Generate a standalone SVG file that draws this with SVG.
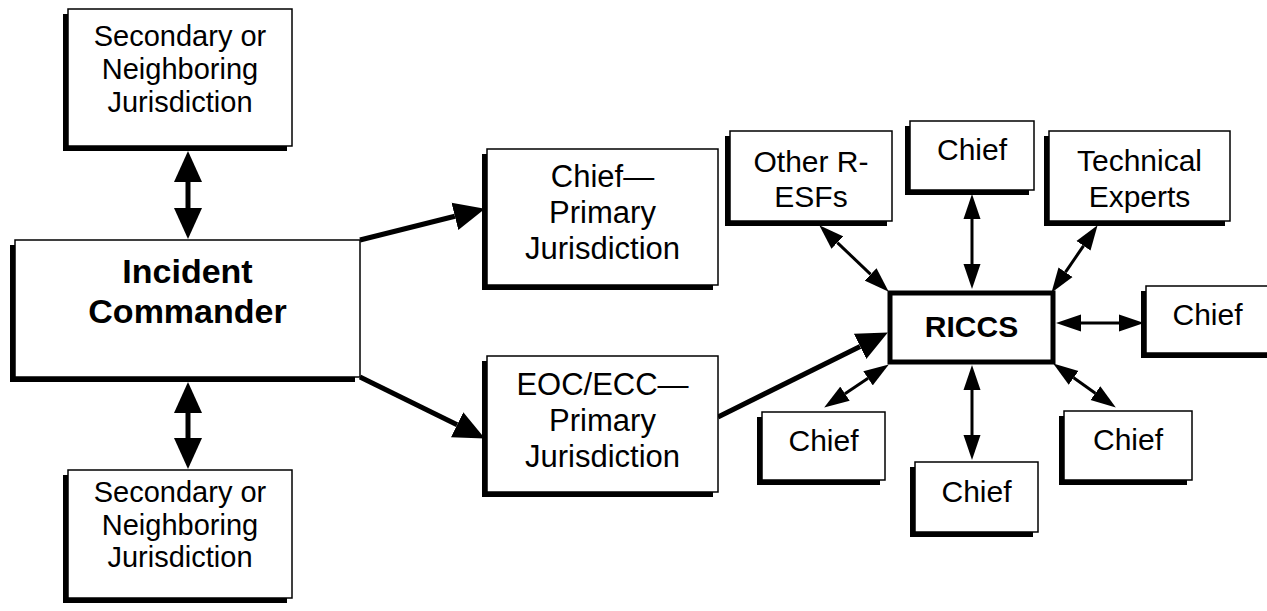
<svg xmlns="http://www.w3.org/2000/svg" width="1267" height="611" viewBox="0 0 1267 611">
<style>
.sh{fill:#000}
.bx{fill:#fff;stroke:#000;stroke-width:1.5}
.rb{fill:#fff;stroke:#000;stroke-width:5}
.t{font-family:"Liberation Sans",Arial,sans-serif;fill:#000;text-anchor:middle}
.b{font-weight:bold}
.thick{stroke:#000;stroke-width:5;fill:none}
.thin{stroke:#000;stroke-width:3;fill:none}
</style>
<defs>
<marker id="hT" markerUnits="userSpaceOnUse" markerWidth="32" markerHeight="30" refX="0" refY="14" orient="auto-start-reverse" viewBox="0 0 32 28">
<path d="M0,0 L31,14 L0,28 z" fill="#000"/>
</marker>
<marker id="hS" markerUnits="userSpaceOnUse" markerWidth="26" markerHeight="18" refX="0" refY="8.5" orient="auto-start-reverse" viewBox="0 0 26 17">
<path d="M0,0 L25,8.5 L0,17 z" fill="#000"/>
</marker>
</defs>

<g id="connectors">
<line class="thick" x1="188" y1="182" x2="188" y2="208" marker-start="url(#hT)" marker-end="url(#hT)"/>
<line class="thick" x1="188" y1="413" x2="188" y2="438" marker-start="url(#hT)" marker-end="url(#hT)"/>
<line class="thick" x1="360" y1="240" x2="454.9" y2="216.3" marker-end="url(#hT)"/>
<line class="thick" x1="360" y1="377" x2="457.1" y2="424.8" marker-end="url(#hT)"/>
<line class="thick" x1="718" y1="417" x2="860.1" y2="346.4" marker-end="url(#hT)"/>
<line class="thin" x1="837.35" y1="242.58" x2="870.65" y2="274.42" marker-start="url(#hS)" marker-end="url(#hS)"/>
<line class="thin" x1="972" y1="219" x2="972" y2="264" marker-start="url(#hS)" marker-end="url(#hS)"/>
<line class="thin" x1="1083.48" y1="245.83" x2="1065.52" y2="272.17" marker-start="url(#hS)" marker-end="url(#hS)"/>
<line class="thin" x1="1081" y1="323" x2="1119" y2="323" marker-start="url(#hS)" marker-end="url(#hS)"/>
<line class="thin" x1="1073.62" y1="377.83" x2="1095.38" y2="393.17" marker-start="url(#hS)" marker-end="url(#hS)"/>
<line class="thin" x1="972" y1="390" x2="972" y2="435" marker-start="url(#hS)" marker-end="url(#hS)"/>
<line class="thin" x1="868.03" y1="378.31" x2="844.97" y2="393.69" marker-start="url(#hS)" marker-end="url(#hS)"/>
</g>

<g id="secondary-top">
<rect class="sh" x="63" y="14" width="224" height="137"/>
<rect class="bx" x="68" y="9" width="224" height="137"/>
<text class="t" font-size="29" x="180" y="46">Secondary or</text>
<text class="t" font-size="29" x="180" y="79">Neighboring</text>
<text class="t" font-size="29" x="180" y="112">Jurisdiction</text>
</g>

<g id="incident-commander">
<rect class="sh" x="10" y="245" width="345" height="137"/>
<rect class="bx" x="15" y="240" width="345" height="137"/>
<text class="t b" font-size="34" x="187.5" y="283">Incident</text>
<text class="t b" font-size="34" x="187.5" y="323">Commander</text>
</g>

<g id="secondary-bottom">
<rect class="sh" x="63" y="475" width="224" height="128"/>
<rect class="bx" x="68" y="470" width="224" height="128"/>
<text class="t" font-size="29" x="180" y="502">Secondary or</text>
<text class="t" font-size="29" x="180" y="535">Neighboring</text>
<text class="t" font-size="29" x="180" y="567">Jurisdiction</text>
</g>

<g id="chief-primary">
<rect class="sh" x="482" y="154" width="231" height="136"/>
<rect class="bx" x="487" y="149" width="231" height="136"/>
<text class="t" font-size="31" x="602.5" y="187">Chief—</text>
<text class="t" font-size="31" x="602.5" y="223">Primary</text>
<text class="t" font-size="31" x="602.5" y="259">Jurisdiction</text>
</g>

<g id="eoc-primary">
<rect class="sh" x="482" y="361" width="231" height="136"/>
<rect class="bx" x="487" y="356" width="231" height="136"/>
<text class="t" font-size="31" x="602.5" y="395">EOC/ECC—</text>
<text class="t" font-size="31" x="602.5" y="431">Primary</text>
<text class="t" font-size="31" x="602.5" y="467">Jurisdiction</text>
</g>

<g id="other-resfs">
<rect class="sh" x="725" y="136" width="162" height="90"/>
<rect class="bx" x="730" y="131" width="162" height="90"/>
<text class="t" font-size="30" x="811" y="172">Other R-</text>
<text class="t" font-size="30" x="811" y="207">ESFs</text>
</g>

<g id="chief-top">
<rect class="sh" x="905" y="126" width="124" height="69"/>
<rect class="bx" x="910" y="121" width="124" height="69"/>
<text class="t" font-size="30" x="972" y="160">Chief</text>
</g>

<g id="technical-experts">
<rect class="sh" x="1044" y="136" width="181" height="90"/>
<rect class="bx" x="1049" y="131" width="181" height="90"/>
<text class="t" font-size="30" x="1139.5" y="171">Technical</text>
<text class="t" font-size="30" x="1139.5" y="207">Experts</text>
</g>

<g id="riccs">
<rect class="rb" x="890" y="293" width="163" height="69"/>
<text class="t b" font-size="30" x="971.5" y="337">RICCS</text>
</g>

<g id="chief-right">
<rect class="sh" x="1141" y="291" width="140" height="67"/>
<rect class="bx" x="1146" y="286" width="140" height="67"/>
<text class="t" font-size="30" x="1207.5" y="325">Chief</text>
</g>

<g id="chief-bottom-left">
<rect class="sh" x="757" y="417" width="123" height="68"/>
<rect class="bx" x="762" y="412" width="123" height="68"/>
<text class="t" font-size="30" x="823.5" y="451">Chief</text>
</g>

<g id="chief-bottom">
<rect class="sh" x="910" y="467" width="123" height="70"/>
<rect class="bx" x="915" y="462" width="123" height="70"/>
<text class="t" font-size="30" x="976.5" y="502">Chief</text>
</g>

<g id="chief-bottom-right">
<rect class="sh" x="1059" y="416" width="128" height="69"/>
<rect class="bx" x="1064" y="411" width="128" height="69"/>
<text class="t" font-size="30" x="1128" y="450">Chief</text>
</g>
</svg>
